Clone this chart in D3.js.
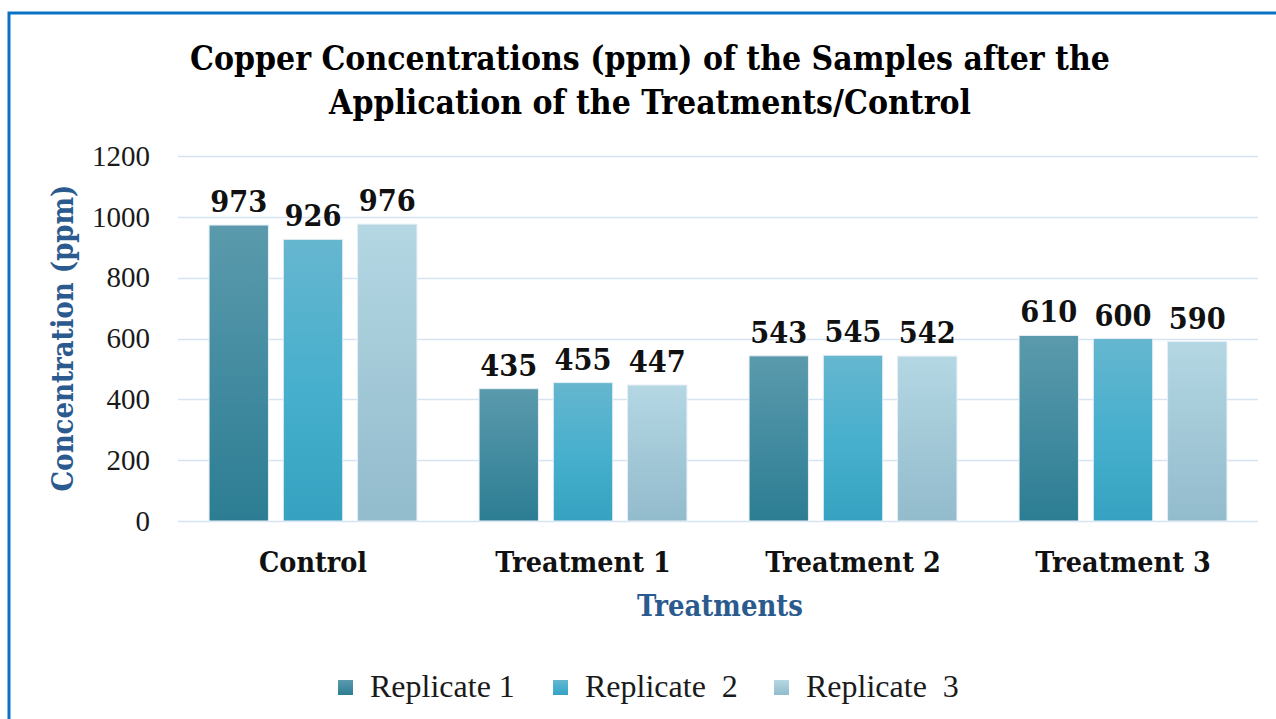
<!DOCTYPE html>
<html lang="en">
<head>
<meta charset="utf-8">
<title>Copper Concentrations</title>
<style>
  html, body {padding: 0; margin: 0; background: #fff; overflow: hidden}
</style>
</head>
<body>
<svg width="1276" height="719"></svg>
<script src="https://d3js.org/d3.v7.min.js"></script>
<script>

var categories = ["Control", "Treatment 1", "Treatment 2", "Treatment 3"];
var seriesNames = ["Replicate 1", "Replicate  2", "Replicate  3"];
var replicate1 = [973, 435, 543, 610];
var replicate2 = [926, 455, 545, 600];
var replicate3 = [976, 447, 542, 590];
var yTicks = [0, 200, 400, 600, 800, 1000, 1200];

var series = [replicate1, replicate2, replicate3];
var gradients = [
  ["#5b9aad", "#2c7d93"],
  ["#66b6cf", "#37a1c1"],
  ["#b4d7e3", "#92bbcc"]
];

var boldFont = "'DejaVu Serif Condensed', 'DejaVu Serif', serif";

var svg = d3.select("svg");
var margin = {left: 178, right: 18, top: 156, bottom: 198};
var width = 1276, height = 719;

// scale the font of a whole selection so its first text spans the target width
function fitWidth(sel, target) {
  var node = sel.node();
  var fs = +node.getAttribute("font-size");
  var w = node.getComputedTextLength();
  if (w > 0) sel.attr("font-size", (fs * target / w).toFixed(2));
}

var defs = svg.append("defs");
gradients.forEach(function(g, i) {
  var lg = defs.append("linearGradient")
    .attr("id", "grad" + i)
    .attr("x1", 0).attr("y1", 0).attr("x2", 0).attr("y2", 1);
  lg.append("stop").attr("offset", "0%").attr("stop-color", g[0]);
  if (i == 1) lg.append("stop").attr("offset", "55%").attr("stop-color", "#45afcd");
  lg.append("stop").attr("offset", "100%").attr("stop-color", g[1]);
});

// outer frame
svg.append("path")
  .attr("d", "M9,719 V13 H1276")
  .attr("fill", "none")
  .attr("stroke", "#0a72c4")
  .attr("stroke-width", 3);

var x0 = d3.scaleBand()
  .domain(categories)
  .range([margin.left, width - margin.right])
  .paddingInner(0.23)
  .paddingOuter(0.115);

var x1 = d3.scaleBand()
  .domain(d3.range(3))
  .range([0, x0.bandwidth()])
  .paddingInner(0.2);

var y = d3.scaleLinear()
  .domain([0, 1200])
  .range([height - margin.bottom, margin.top]);

// gridlines
svg.append("g")
  .selectAll("line")
  .data(yTicks)
  .join("line")
  .attr("x1", margin.left)
  .attr("x2", width - margin.right)
  .attr("y1", function(d) { return Math.round(y(d)) + 0.5; })
  .attr("y2", function(d) { return Math.round(y(d)) + 0.5; })
  .attr("stroke", "#d6e4f2")
  .attr("stroke-width", 1.5);

// y axis labels
var yAxis = d3.axisLeft(y).tickValues(yTicks).tickFormat(d3.format("d")).tickSize(0).tickPadding(28);
var ya = svg.append("g")
  .attr("transform", "translate(" + margin.left + ",0)")
  .call(yAxis);
ya.select(".domain").remove();
ya.selectAll("text")
  .attr("font-family", "Liberation Serif")
  .attr("font-size", 29)
  .attr("fill", "#1a1a1a");

// bars
var groups = svg.append("g")
  .selectAll("g")
  .data(categories)
  .join("g")
  .attr("transform", function(d) { return "translate(" + x0(d) + ",0)"; });

groups.selectAll("rect")
  .data(function(d, ci) { return series.map(function(s, si) { return {si: si, v: s[ci]}; }); })
  .join("rect")
  .attr("x", function(d) { return x1(d.si); })
  .attr("width", x1.bandwidth())
  .attr("y", function(d) { return y(d.v); })
  .attr("height", function(d) { return y(0) - y(d.v); })
  .attr("fill", function(d) { return "url(#grad" + d.si + ")"; })
  .attr("stroke", "#e6eef5")
  .attr("stroke-width", 1);

var labels = groups.selectAll("text.lbl")
  .data(function(d, ci) { return series.map(function(s, si) { return {si: si, v: s[ci]}; }); })
  .join("text")
  .attr("class", "lbl")
  .attr("x", function(d) { return x1(d.si) + x1.bandwidth() / 2; })
  .attr("y", function(d) { return y(d.v) - 13; })
  .attr("text-anchor", "middle")
  .attr("font-family", boldFont)
  .attr("font-weight", "bold")
  .attr("font-size", 26)
  .attr("fill", "#111")
  .text(function(d) { return d.v; });
fitWidth(labels, 57);

// category labels
var cats = svg.append("g")
  .selectAll("text")
  .data(categories)
  .join("text")
  .attr("x", function(d) { return x0(d) + x0.bandwidth() / 2; })
  .attr("y", 572)
  .attr("text-anchor", "middle")
  .attr("font-family", boldFont)
  .attr("font-weight", "bold")
  .attr("font-size", 26)
  .attr("fill", "#111")
  .text(function(d) { return d; });
fitWidth(cats, 108);

// axis titles
var xt = svg.append("text")
  .attr("x", 720)
  .attr("y", 616)
  .attr("text-anchor", "middle")
  .attr("font-family", boldFont)
  .attr("font-weight", "bold")
  .attr("font-size", 25)
  .attr("fill", "#2b5b8e")
  .text("Treatments");
fitWidth(xt, 166);

var yt = svg.append("text")
  .attr("transform", "translate(73,338) rotate(-90)")
  .attr("text-anchor", "middle")
  .attr("font-family", boldFont)
  .attr("font-weight", "bold")
  .attr("font-size", 25)
  .attr("fill", "#2b5b8e")
  .text("Concentration (ppm)");
fitWidth(yt, 307);

// title
var title = ["Copper Concentrations (ppm) of the Samples after the",
             "Application of the Treatments/Control"];
var tt = svg.append("g")
  .selectAll("text")
  .data(title)
  .join("text")
  .attr("x", 650)
  .attr("y", function(d, i) { return 70 + i * 44; })
  .attr("text-anchor", "middle")
  .attr("font-family", boldFont)
  .attr("font-weight", "bold")
  .attr("font-size", 30)
  .attr("fill", "#000")
  .text(function(d) { return d; });
fitWidth(tt, 920);

// legend
var legendX = [338, 553, 774];
var legend = svg.append("g")
  .selectAll("g")
  .data(seriesNames)
  .join("g")
  .attr("transform", function(d, i) { return "translate(" + legendX[i] + ",680)"; });
legend.append("rect")
  .attr("width", 15).attr("height", 15)
  .attr("fill", function(d, i) { return "url(#grad" + i + ")"; });
legend.append("text")
  .attr("x", 32)
  .attr("y", 17)
  .attr("font-family", "Liberation Serif")
  .attr("font-size", 32)
  .attr("fill", "#1a1a1a")
  .style("white-space", "pre")
  .text(function(d) { return d; });

</script>
</body>
</html>
